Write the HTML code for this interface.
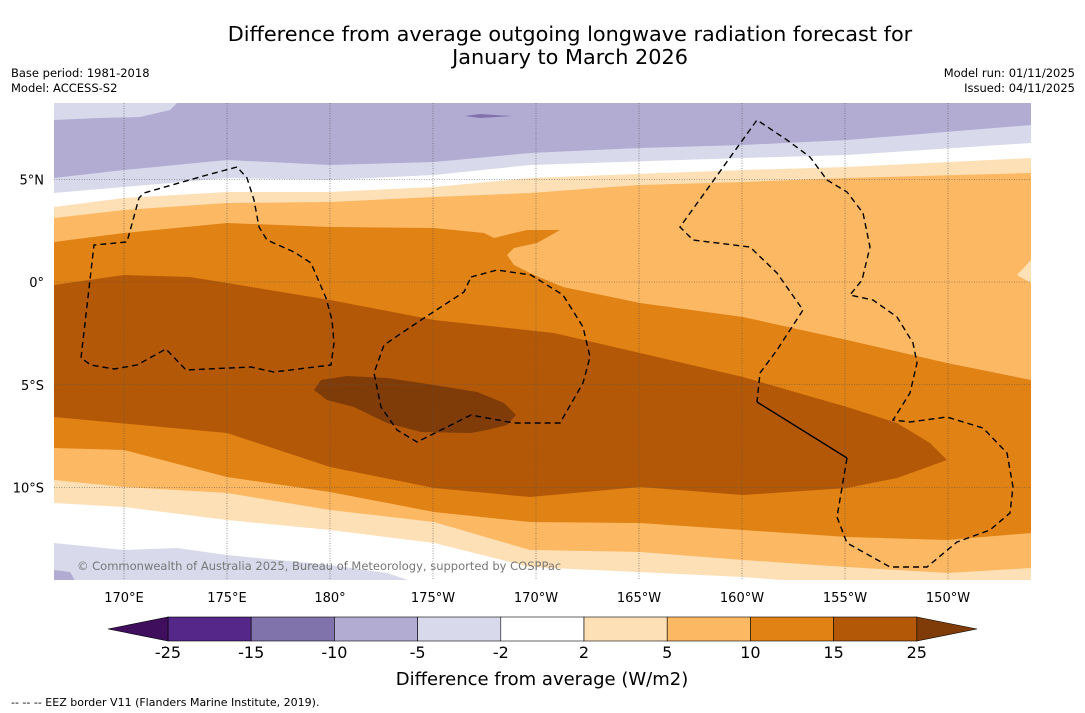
<!DOCTYPE html>
<html><head><meta charset="utf-8"><style>
body{margin:0;background:#fff;width:1085px;height:713px;overflow:hidden;font-family:"Liberation Sans","DejaVu Sans",sans-serif}
svg{position:absolute;left:0;top:0}
</style></head><body>
<svg id="chart" width="1085" height="713" viewBox="0 0 1085 713">
<defs><clipPath id="mapclip"><rect x="54" y="103" width="977" height="477"/></clipPath></defs>
<text x="570" y="41" text-anchor="middle" font-size="20.8" fill="#000" font-family="DejaVu Sans, sans-serif">Difference from average outgoing longwave radiation forecast for</text>
<text x="570" y="64" text-anchor="middle" font-size="20.8" fill="#000" font-family="DejaVu Sans, sans-serif">January to March 2026</text>
<text x="11" y="77" font-size="11.5" font-family="DejaVu Sans, sans-serif">Base period: 1981-2018</text>
<text x="11" y="92" font-size="11.5" font-family="DejaVu Sans, sans-serif">Model: ACCESS-S2</text>
<text x="1075" y="77" font-size="11.5" text-anchor="end" font-family="DejaVu Sans, sans-serif">Model run: 01/11/2025</text>
<text x="1075" y="92" font-size="11.5" text-anchor="end" font-family="DejaVu Sans, sans-serif">Issued: 04/11/2025</text>
<g id="map" clip-path="url(#mapclip)"></g>
<g id="grid"></g>
<g id="eez"></g>
<text x="77" y="570" font-size="11.5" fill="#777" font-family="DejaVu Sans, sans-serif">© Commonwealth of Australia 2025, Bureau of Meteorology, supported by COSPPac</text>
<g id="ticks"></g>
<g id="cbar"></g>
<text x="542" y="685" font-size="18" text-anchor="middle" font-family="DejaVu Sans, sans-serif">Difference from average (W/m2)</text>
<text x="11" y="706" font-size="11" font-family="DejaVu Sans, sans-serif">--  --  -- EEZ border V11 (Flanders Marine Institute, 2019).</text>
</svg>
<script>
const levelLabels=["-25","-15","-10","-5","-2","2","5","10","15","25"];
const levelColors=["#542788","#8073ac","#b2abd2","#d8daeb","#ffffff","#fee0b6","#fdb863","#e08214","#b35806"];
const extendColors=["#3f0f5e","#7f3b08"];
const lonTicks=[170,175,180,-175,-170,-165,-160,-155,-150];
const latTicks=[5,0,-5,-10];
const NS="http://www.w3.org/2000/svg";
function xLon(l){let e=l<0?360+l:l;return 124+(e-170)*20.6;}
function yLat(l){return 282-l*20.55;}
function mk(tag,attrs,parent){const e=document.createElementNS(NS,tag);for(const k in attrs)e.setAttribute(k,attrs[k]);parent.appendChild(e);return e;}
function pts(a){return a.map(p=>p[0]+","+p[1]).join(" ");}
const map=document.getElementById('map');
function poly(points,fill,name){const e=mk('polygon',{points:pts(points),fill:fill},map);

}
function band(top,bottom,fill,name){poly(top.concat(bottom.slice().reverse()),fill,name);}
poly([[54,103],[1031,103],[1031,600],[54,600]],"#ffffff","background");
const L1=[[54,193],[124,187],[227,178],[330,180],[434,175],[530,165],[743,158],[847,155],[1031,143]];
const P1=[[54,178],[124,170],[227,160],[330,165],[434,162],[530,153],[640,148],[743,145],[847,140],[1031,125]];
band([[54,103],[1031,103]],L1,"#d8daeb","lavender-top-band");
band([[54,103],[1031,103]],P1,"#b2abd2","purple-top-band");
poly([[54,103],[177,103],[170,110],[140,117],[100,118],[54,120]],"#d8daeb","lavender-top-left");
poly([[465,116],[480,114],[512,116],[480,118]],"#8073ac","purple-spot");
band([[54,543],[124,550],[177,548],[227,555],[330,565],[387,573],[414,582]],[[54,590],[414,590]],"#d8daeb","lavender-bottom-band");
poly([[54,570],[70,572],[76,582],[54,582]],"#b2abd2","purple-bottom-corner");
const T1=[[54,207],[124,198],[227,192],[330,192],[434,187],[530,178],[743,170],[847,167],[1031,158]];
const B1=[[54,503],[124,507],[227,520],[330,530],[434,543],[530,567],[743,577],[847,585],[1031,590]];
band(T1,B1,"#fee0b6","band-2-5");
const T2=[[54,218],[124,210],[227,203],[330,202],[434,197],[530,193],[640,185],[743,182],[847,178],[1031,173]];
const B2=[[54,480],[124,487],[227,493],[330,510],[434,522],[530,550],[640,552],[743,560],[847,567],[947,573],[1031,568]];
band(T2,B2,"#fdb863","band-5-10");
poly([[1031,260],[1017,275],[1031,283]],"#fee0b6","peach-patch-east");
const T3=[[54,242],[124,233],[227,223],[330,227],[434,228],[484,233],[494,238],[514,233],[527,230],[560,230],[537,243],[514,248],[507,255],[514,265],[534,275],[563,287],[640,303],[743,317],[847,340],[947,363],[1031,380]];
const B3=[[54,448],[124,450],[227,477],[330,492],[434,512],[530,522],[640,523],[743,530],[847,537],[947,540],[1031,533]];
band(T3,B3,"#e08214","band-10-15");
poly([[54,285],[124,275],[190,277],[227,283],[330,300],[434,320],[554,333],[640,353],[743,377],[847,407],[897,423],[930,443],[947,460],[897,478],[847,488],[743,495],[640,487],[530,497],[434,488],[330,467],[227,433],[54,417]],"#b35806","band-15-25");
poly([[314,390],[321,380],[347,376],[387,378],[434,385],[477,392],[504,403],[516,415],[507,425],[487,430],[471,433],[421,432],[387,423],[354,407],[327,400]],"#7f3b08","band-above-25");
const grid=document.getElementById('grid');
lonTicks.forEach(l=>{const x=xLon(l);const e=mk('line',{x1:x,x2:x,y1:103,y2:580,stroke:'#555','stroke-width':0.6,'stroke-dasharray':'1,1.5'},grid);

});
latTicks.forEach(l=>{const y=yLat(l);const e=mk('line',{x1:54,x2:1031,y1:y,y2:y,stroke:'#555','stroke-width':0.6,'stroke-dasharray':'1,1.5'},grid);

});
const ticks=document.getElementById('ticks');
lonTicks.forEach(l=>{const t=mk('text',{x:xLon(l),y:602,'text-anchor':'middle','font-size':13,'font-family':'DejaVu Sans, sans-serif'},ticks);
t.textContent=(l===180?"180°":(l>0?Math.abs(l)+"°E":Math.abs(l)+"°W"));

});
latTicks.forEach(l=>{const t=mk('text',{x:44,y:yLat(l)+5,'text-anchor':'end','font-size':13,'font-family':'DejaVu Sans, sans-serif'},ticks);
t.textContent=(l===0?"0°":Math.abs(l)+"°"+(l>0?"N":"S"));

});
const eez=document.getElementById('eez');
function dash(p,solid){const e=mk('polyline',{points:pts(p),fill:'none',stroke:'#000','stroke-width':1.4,'stroke-dasharray':solid?'none':'6,4'},eez);

}
dash([[237,167],[207,175],[144,193],[139,198],[127,242],[94,245],[81,358],[91,365],[114,369],[137,365],[166,349],[186,370],[251,367],[274,372],[331,365],[334,343],[332,320],[326,298],[311,263],[294,252],[267,240],[259,227],[254,200],[247,178],[237,167]]);
dash([[471,277],[497,270],[531,275],[563,295],[583,327],[590,357],[583,383],[560,423],[514,423],[471,415],[417,442],[397,430],[381,407],[374,373],[384,345],[421,320],[464,292],[471,277]]);
dash([[847,458],[837,517],[847,543],[890,567],[927,567],[957,542],[990,530],[1010,513],[1013,487],[1007,453],[983,428],[947,417],[910,422],[893,420],[910,393],[917,363],[913,343],[897,317],[873,300],[850,295],[862,280],[870,247],[863,213],[847,192],[827,180],[810,157],[787,140],[757,120],[680,227],[693,240],[750,247],[777,273],[803,310],[777,350],[760,373],[757,402]]);
dash([[757,402],[847,458]],true);
const cb=document.getElementById('cbar');
const x0=168,w=83.2,y0=617,h=24;
levelColors.forEach((c,i)=>{const r=mk('rect',{x:x0+i*w,y:y0,width:w,height:h,fill:c,stroke:'#000','stroke-width':0.6},cb);

});
const tl=mk('polygon',{points:pts([[108,y0+h/2],[x0,y0],[x0,y0+h]]),fill:extendColors[0],stroke:'#000','stroke-width':0.6},cb);


const xe=x0+levelColors.length*w;
const tr=mk('polygon',{points:pts([[xe,y0],[977,y0+h/2],[xe,y0+h]]),fill:extendColors[1],stroke:'#000','stroke-width':0.6},cb);


levelLabels.forEach((s,i)=>{const t=mk('text',{x:x0+i*w,y:658,'text-anchor':'middle','font-size':16,'font-family':'DejaVu Sans, sans-serif'},cb);
t.textContent=s;

});
</script>
</body></html>
